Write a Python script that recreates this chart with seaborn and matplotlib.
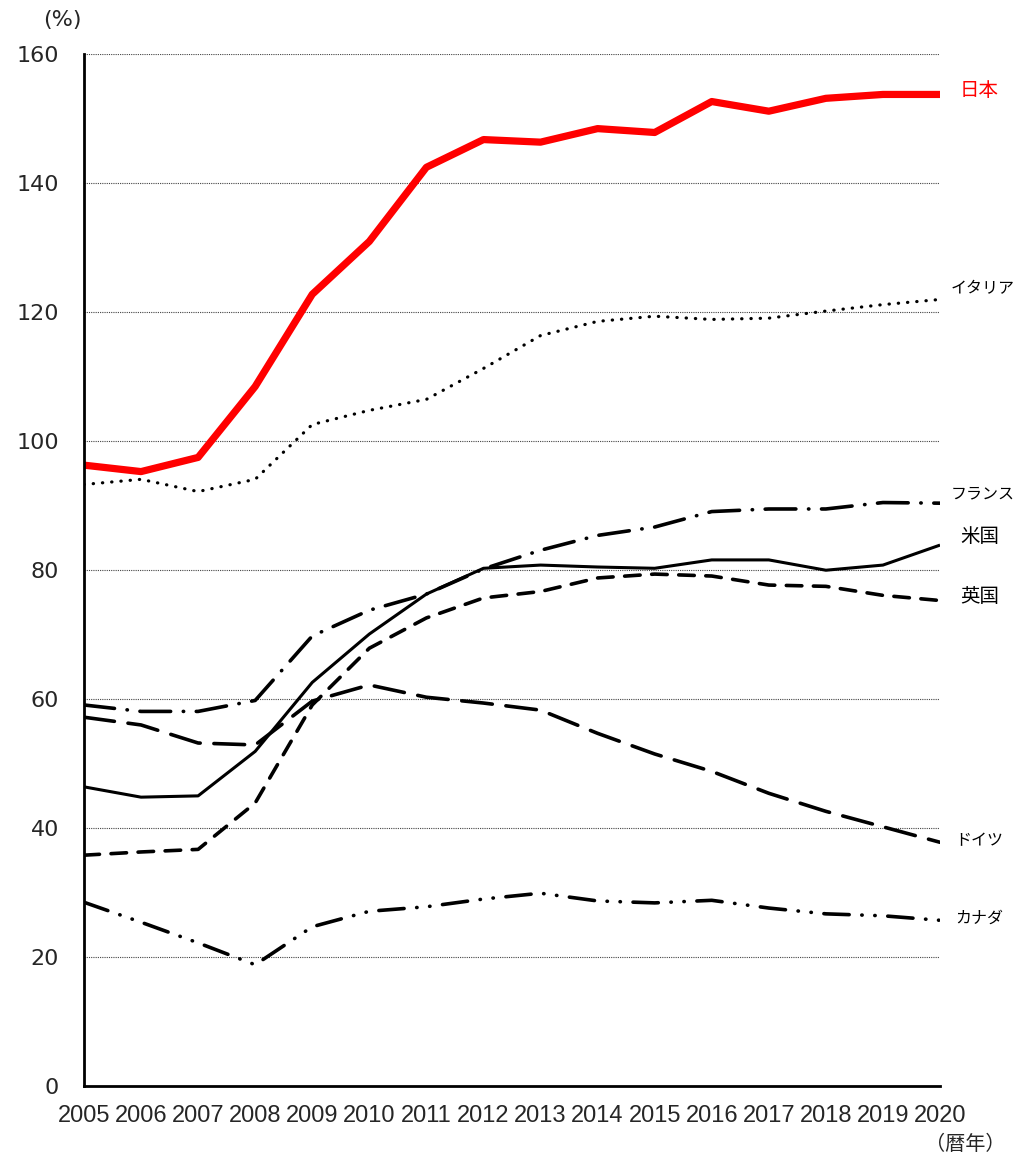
import matplotlib
matplotlib.use("Agg")
import matplotlib.pyplot as plt
import seaborn as sns
import pandas as pd

years = list(range(2005, 2021))
japan = [96.3, 95.3, 97.5, 108.5, 122.8, 131.0, 142.5, 146.8, 146.4, 148.5, 147.9, 152.7, 151.2, 153.2, 153.8, 153.8]
italy = [93.3, 94.1, 92.2, 94.1, 102.6, 104.8, 106.5, 111.3, 116.4, 118.6, 119.4, 118.9, 119.1, 120.2, 121.2, 122.0]
france = [59.1, 58.1, 58.1, 59.8, 69.8, 73.8, 76.3, 80.2, 83.1, 85.4, 86.7, 89.1, 89.5, 89.5, 90.5, 90.4]
usa = [46.4, 44.8, 45.0, 51.9, 62.6, 70.1, 76.3, 80.3, 80.8, 80.5, 80.3, 81.6, 81.6, 80.0, 80.8, 83.9]
uk = [35.8, 36.3, 36.7, 43.9, 59.1, 67.9, 72.6, 75.7, 76.7, 78.8, 79.4, 79.1, 77.7, 77.5, 76.1, 75.3]
germany = [57.2, 56.0, 53.2, 52.9, 59.7, 62.2, 60.3, 59.4, 58.3, 54.7, 51.5, 48.8, 45.4, 42.6, 40.2, 37.8]
canada = [28.5, 25.4, 22.2, 18.8, 24.7, 27.1, 27.8, 29.0, 29.9, 28.7, 28.4, 28.8, 27.6, 26.7, 26.4, 25.7]

sns.set_style("white")
plt.rcParams['font.family'] = ['Noto Sans CJK JP', 'DejaVu Sans']

fig = plt.figure(figsize=(10.24, 11.59), dpi=100)
ax = fig.add_axes([0.082, 0.063, 0.836, 0.890])

# (series, colour, width, dash pattern, label, label x, label y, label size)
series = [
    (canada, 'black', 2.6, (0, (7, 3.5, 0.1, 3.5, 0.1, 3.5)), 'カナダ', 2020.27, 26.0, 11.5),
    (germany, 'black', 2.6, (0, (8.5, 3.8)), 'ドイツ', 2020.27, 38.1, 11.5),
    (uk, 'black', 2.6, (0, (4.3, 3.2)), '英国', 2020.35, 76.0, 14),
    (usa, 'black', 2.2, '-', '米国', 2020.35, 85.3, 14),
    (france, 'black', 2.6, (0, (8.5, 3.5, 0.1, 3.5)), 'フランス', 2020.18, 91.8, 11.5),
    (italy, 'black', 2.3, (0, (0.1, 2.8)), 'イタリア', 2020.18, 123.7, 11.5),
    (japan, '#ff0000', 5.2, '-', '日本', 2020.35, 154.4, 14),
]

for vals, col, lw, ls, name, lx, ly, fs in series:
    df = pd.DataFrame({'year': years, 'value': vals})
    sns.lineplot(data=df, x='year', y='value', ax=ax, color=col, lw=lw,
                 linestyle=ls, dash_capstyle='round', solid_capstyle='butt')
    ax.text(lx, ly, name, color=col, fontsize=fs, va='center', ha='left', clip_on=False)

ax.set_xlim(2005, 2020)
ax.set_ylim(0, 160)
ax.set_yticks(range(0, 161, 20))
ax.set_xticks(years)
ax.set_xticklabels([str(y) for y in years], fontsize=17, family='Liberation Sans')
ax.tick_params(axis='y', labelsize=16, direction='in', length=6, width=1.5, pad=18)
ax.tick_params(axis='x', length=0, pad=14)
for t in ax.get_yticklabels():
    t.set_family('DejaVu Sans')
ax.set_xlabel('')
ax.set_ylabel('')

for v in range(20, 161, 20):
    ax.axhline(v, color='#444444', lw=0.8, ls=(0, (1, 1)), zorder=0)

for s in ['top', 'right']:
    ax.spines[s].set_visible(False)
ax.spines['left'].set_linewidth(2)
ax.spines['bottom'].set_linewidth(2)
ax.spines['left'].set_color('black')
ax.spines['bottom'].set_color('black')

fig.text(62 / 1024, 1 - 20 / 1159, '(%)', fontsize=16, ha='center', va='center', family='DejaVu Sans')
fig.text(965 / 1024, 1 - 1145 / 1159, '（暦年）', fontsize=14.5, ha='center', va='center')

plt.savefig('out.png', dpi=100)
plt.close('all')
